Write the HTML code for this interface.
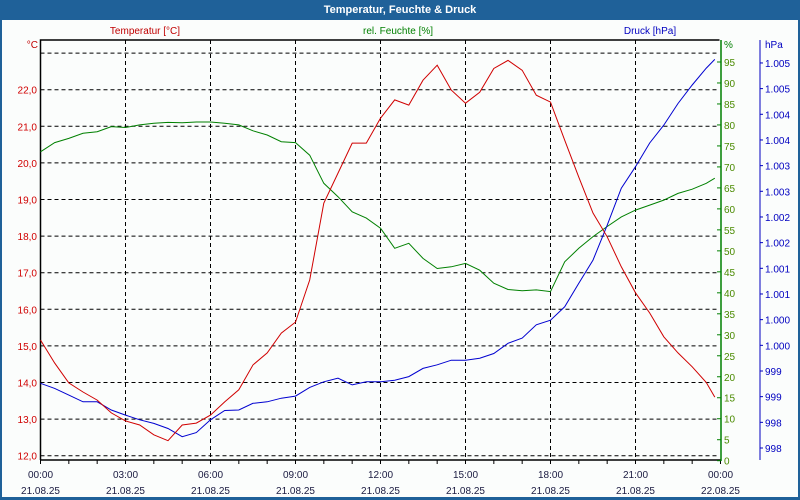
<!DOCTYPE html>
<html><head><meta charset="utf-8"><style>
html,body{margin:0;padding:0;width:800px;height:500px;overflow:hidden;background:#fff}
svg{display:block;font-family:"Liberation Sans",sans-serif}
</style></head><body>
<svg id="chart" width="800" height="500" viewBox="0 0 800 500">
<rect x="0" y="0" width="800" height="500" fill="#1f6199"/>
<rect x="2" y="20" width="796" height="477" fill="#fbfdfc"/>
<text x="400" y="13" fill="#fff" font-size="11" font-weight="bold" text-anchor="middle">Temperatur, Feuchte &amp; Druck</text>
<text x="145" y="34" fill="#c00000" font-size="10" text-anchor="middle">Temperatur [°C]</text>
<text x="398" y="34" fill="#008000" font-size="10" text-anchor="middle">rel. Feuchte [%]</text>
<text x="650" y="34" fill="#0000c0" font-size="10" text-anchor="middle">Druck [hPa]</text>
<text x="38" y="48" fill="#c00000" font-size="10" text-anchor="end">°C</text>
<text x="724" y="48" fill="#008000" font-size="10">%</text>
<text x="765" y="48" fill="#0000c0" font-size="10">hPa</text>
<g id="grid"></g><g id="axes"></g><g id="series"></g>
</svg>
<script>
const hours=[0,0.5,1,1.5,2,2.5,3,3.5,4,4.5,5,5.5,6,6.5,7,7.5,8,8.5,9,9.5,10,10.5,11,11.5,12,12.5,13,13.5,14,14.5,15,15.5,16,16.5,17,17.5,18,18.5,19,19.5,20,20.5,21,21.5,22,22.5,23,23.5,23.8];
const temperature=[15.16,14.53,13.99,13.74,13.52,13.17,12.95,12.84,12.57,12.41,12.84,12.89,13.11,13.47,13.80,14.48,14.81,15.35,15.65,16.80,18.9,19.72,20.54,20.54,21.22,21.72,21.58,22.26,22.67,21.99,21.63,21.93,22.58,22.8,22.53,21.85,21.66,20.62,19.61,18.63,17.98,17.16,16.45,15.90,15.25,14.81,14.43,14.0,13.6];
const humidity=[73.6,75.8,76.8,78.0,78.4,79.6,79.4,80.0,80.4,80.6,80.5,80.7,80.7,80.4,80.0,78.6,77.6,76.0,75.8,72.8,66.1,62.9,59.3,57.8,55.4,50.6,51.8,48.2,45.8,46.2,47.0,45.4,42.3,40.8,40.5,40.7,40.3,47.4,50.6,53.4,55.8,58.1,59.7,60.9,62.1,63.7,64.7,66.1,67.3];
const pressure=[999.01,998.91,998.78,998.65,998.65,998.49,998.39,998.30,998.23,998.13,997.97,998.05,998.30,998.48,998.49,998.62,998.65,998.72,998.76,998.93,999.04,999.11,998.98,999.04,999.04,999.07,999.14,999.30,999.37,999.46,999.46,999.50,999.59,999.79,999.89,1000.15,1000.24,1000.50,1000.96,1001.41,1002.09,1002.81,1003.23,1003.69,1004.04,1004.46,1004.82,1005.15,1005.32];
const tempTicks=[12,13,14,15,16,17,18,19,20,21,22];
const tempTickLabels=["12,0","13,0","14,0","15,0","16,0","17,0","18,0","19,0","20,0","21,0","22,0"];
const humTicks=[0,5,10,15,20,25,30,35,40,45,50,55,60,65,70,75,80,85,90,95];
const presTicks=[997.75,998.25,998.75,999.25,999.75,1000.25,1000.75,1001.25,1001.75,1002.25,1002.75,1003.25,1003.75,1004.25,1004.75,1005.25];
const presTickLabels=["998","998","999","999","1.000","1.000","1.001","1.001","1.002","1.002","1.003","1.003","1.004","1.004","1.005","1.005"];
const timeTicks=[0,3,6,9,12,15,18,21,24];
const timeLabels=["00:00","03:00","06:00","09:00","12:00","15:00","18:00","21:00","00:00"];
const dateLabels=["21.08.25","21.08.25","21.08.25","21.08.25","21.08.25","21.08.25","21.08.25","21.08.25","22.08.25"];

const NS="http://www.w3.org/2000/svg";
const X0=40.5,X1=720.5,YB=460;
const xs=h=>X0+(X1-X0)*h/24;
const yT=t=>455.7-(t-12)*36.6;
const yH=v=>460.7-v*4.197;
const yP=p=>448-(p-997.75)/0.5*25.67;
function mk(tag,attrs,parent){const e=document.createElementNS(NS,tag);for(const k in attrs)e.setAttribute(k,attrs[k]);parent.appendChild(e);return e;}
const grid=document.getElementById('grid'),axes=document.getElementById('axes'),series=document.getElementById('series');
// horizontal gridlines at temperature values 12..23
for(let t=12;t<=23;t++){
  const l=mk('line',{x1:X0,x2:X1-3,y1:yT(t),y2:yT(t),stroke:'#000','stroke-dasharray':'4,3','stroke-width':1},grid);
  
  
}
timeTicks.forEach((h,i)=>{
  if(i>0&&i<timeTicks.length-1){
    const l=mk('line',{x1:xs(h),x2:xs(h),y1:40,y2:YB,stroke:'#000','stroke-dasharray':'4,3'},grid);
    
    
  }
  const t1=mk('text',{x:xs(h),y:478,'font-size':10,fill:'#1a1a40','text-anchor':'middle'},axes);t1.textContent=timeLabels[i];
  
  
  const t2=mk('text',{x:xs(h),y:494,'font-size':10,fill:'#1a1a40','text-anchor':'middle'},axes);t2.textContent=dateLabels[i];
  
  
});
for(let h=0;h<=24;h++){
  const l=mk('line',{x1:xs(h),x2:xs(h),y1:YB,y2:YB+4,stroke:'#000'},axes);
  
  
}
// frame
const fr=mk('path',{d:`M${X0},${YB} V40 H${X1-1}`,stroke:'#000',fill:'none','stroke-width':1.5},axes);


const xa=mk('line',{x1:X0,x2:X1,y1:YB,y2:YB,stroke:'#000','stroke-width':1.5},axes);


tempTicks.forEach((t,i)=>{
  const e=mk('text',{x:37,y:yT(t)+4,'font-size':10,fill:'#d00000','text-anchor':'end'},axes);e.textContent=tempTickLabels[i];
  
  
});
const ga=mk('line',{x1:721,x2:721,y1:40,y2:461,stroke:'#008000','stroke-width':1.5},axes);


humTicks.forEach(v=>{
  const l=mk('line',{x1:717,x2:721,y1:yH(v),y2:yH(v),stroke:'#008000'},axes);
  
  
  const e=mk('text',{x:724,y:yH(v)+4,'font-size':10,fill:'#4a8a00'},axes);e.textContent=v;
  
  
});
const ba=mk('line',{x1:760,x2:760,y1:40,y2:460,stroke:'#0000c0','stroke-width':1},axes);


presTicks.forEach((p,i)=>{
  const l=mk('line',{x1:760,x2:763,y1:yP(p),y2:yP(p),stroke:'#0000c0'},axes);
  
  
  const e=mk('text',{x:765,y:yP(p)+4,'font-size':10,fill:'#0000c0'},axes);e.textContent=presTickLabels[i];
  
  
});
function line(vals,yf,color,name){
  const d=vals.map((v,i)=>(i?'L':'M')+xs(hours[i]).toFixed(1)+','+yf(v).toFixed(1)).join(' ');
  const p=mk('path',{d:d,stroke:color,fill:'none','stroke-width':1},series);
  
  
}
line(humidity,yH,'#008000','humidity-line');
line(pressure,yP,'#0000d0','pressure-line');
line(temperature,yT,'#d00000','temperature-line');
</script>
</body></html>
